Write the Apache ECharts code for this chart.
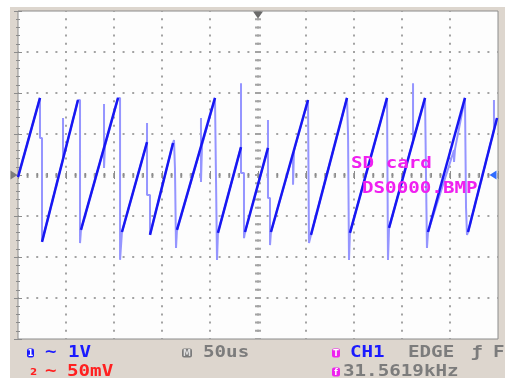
<!DOCTYPE html>
<html>
<head>
<meta charset="utf-8">
<script src="https://cdn.jsdelivr.net/npm/echarts@6/dist/echarts.min.js"></script>
<style>
  body { margin: 0; background: #fff; }
  #main { position: absolute; left: 10px; top: 7px; width: 495px; height: 371px; }
</style>
</head>
<body>
<div id="main"></div>
<script>
// scope setup: 50us/div, 1V/div, 10 x 8 divisions
var timeMax = 500
var timeDiv = 50
var voltMax = 4
var voltDiv = 1

// CH1 trace, [time us, volts] (ramps + drops + glitches)
var trace = [
  [0, -0.05], [22.9, 1.88], [22.9, 0.90], [25, 0.90], [25, -1.63],
  [46.9, 0.39], [46.9, 1.39], [46.9, 0.39], [62.5, 1.83], [64.6, 1.83], [64.6, -1.66], [65.6, -1.34],
  [89.6, 0.66], [89.6, 1.73], [89.6, 0.17], [90.6, 0.71], [104.2, 1.88], [106.3, 1.88], [106.3, -2.07], [108.3, -1.39],
  [134.4, 0.80], [134.4, 1.27], [134.4, -0.49], [137.5, -0.49], [137.5, -1.46],
  [161.5, 0.78], [162.5, 0.85], [163.5, 0.17], [164.6, 0.17], [164.6, -1.78], [165.6, -1.34],
  [190.6, 0.68], [190.6, 1.39], [190.6, -0.17], [191.7, 0.73], [205.2, 1.88], [206.3, 1.88], [206.3, -0.17], [207.3, -0.17], [207.3, -2.07], [208.3, -1.41],
  [232.3, 0.68], [232.3, 2.24], [232.3, 0.05], [235.4, 0.05], [235.4, -1.54], [236.5, -1.39],
  [260.4, 0.66], [260.4, 1.34], [260.4, -0.56], [262.5, -0.56], [262.5, -1.71], [263.5, -1.39],
  [286.5, 0.51], [286.5, -0.24], [287.5, 0.59], [302.1, 1.83], [303.1, 1.83], [303.1, -1.66], [305.2, -1.46],
  [342.7, 1.88], [343.8, 1.88], [343.8, 0.98], [344.8, 0.98], [344.8, -2.07], [345.8, -1.41],
  [384.4, 1.88], [385.4, 1.88], [385.4, -2.07], [386.5, -1.29],
  [411.5, 0.83], [411.5, 2.24], [411.5, 0.83], [424, 1.88], [425, 1.88], [425, 0], [426, 0], [426, -1.78], [427.1, -1.39],
  [454.2, 0.61], [454.2, 0.32], [455.2, 0.63], [465.6, 1.88], [466.7, 1.88], [466.7, -0.80], [467.7, -0.80], [467.7, -1.46], [468.8, -1.39],
  [495.8, 1.10], [495.8, 1.83], [495.8, 1.10], [499, 1.39]
]

// rising ramps drawn darker: [t0, v0, t1, v1]
var ramps = [
  [0, -0.05, 22.9, 1.88],
  [25, -1.63, 62.5, 1.83],
  [65.6, -1.34, 104.2, 1.88],
  [108.3, -1.39, 134.4, 0.80],
  [137.5, -1.46, 161.5, 0.78],
  [165.6, -1.34, 205.2, 1.88],
  [208.3, -1.41, 232.3, 0.68],
  [236.5, -1.39, 260.4, 0.66],
  [263.5, -1.39, 302.1, 1.83],
  [305.2, -1.46, 342.7, 1.88],
  [345.8, -1.41, 384.4, 1.88],
  [386.5, -1.29, 424, 1.88],
  [427.1, -1.39, 465.6, 1.88],
  [468.8, -1.39, 499, 1.39]
]

var gridGray = '#a3a3a3'
var frameGray = '#8c8c8c'
var font = 'bold 15px "DejaVu Sans Mono"'
var sx = 1.28

function txt(x, y, s, color, f) {
  return { type: 'text', x: x, y: y, scaleX: sx, z: 50,
    style: { text: s, font: f || font, fill: color, verticalAlign: 'middle' } }
}
function badge(x, y, w, s, color, fg) {
  return { type: 'group', x: x, y: y, z: 50, children: [
    { type: 'rect', shape: { x: 0, y: -4.5, width: w, height: 9, r: 2 }, style: { fill: color } },
    { type: 'text', style: { text: s, x: w / 2, y: 0.5, font: 'bold 8px "DejaVu Sans"', fill: fg, align: 'center', verticalAlign: 'middle' } }
  ] }
}

var borderAxis = {
  type: 'value', min: 0, max: timeMax, interval: timeDiv,
  axisLine: { show: false }, axisLabel: { show: false },
  axisTick: { show: true, inside: true, length: 4, lineStyle: { color: frameGray } },
  minorTick: { show: true, splitNumber: 5, length: 2, lineStyle: { color: frameGray } },
  splitLine: { show: false }
}
var borderAxisY = Object.assign({}, borderAxis, { min: -voltMax, max: voltMax, interval: voltDiv })

var myChart = echarts.init(document.getElementById('main'))
var option = {
  animation: false,
  backgroundColor: '#ddd6ce',
  grid: { left: 8, top: 4, width: 480, height: 328, show: true,
    backgroundColor: '#fdfdfd', borderColor: frameGray, borderWidth: 1 },
  xAxis: [
    Object.assign({}, borderAxis, { position: 'bottom',
      splitLine: { show: true, showMinLine: false, showMaxLine: false,
        lineStyle: { color: gridGray, width: 2, type: [2, 6.2], dashOffset: 1 } } }),
    Object.assign({}, borderAxis, { position: 'top' }),
    { type: 'value', min: 0, max: timeMax, interval: timeMax / 2, position: 'bottom',
      axisLine: { show: false }, axisLabel: { show: false }, axisTick: { show: false },
      splitLine: { show: true, showMinLine: false, showMaxLine: false,
        lineStyle: { color: gridGray, width: 6, type: [2, 6.2], dashOffset: 1 } } }
  ],
  yAxis: [
    Object.assign({}, borderAxisY, { position: 'left',
      splitLine: { show: true, showMinLine: false, showMaxLine: false,
        lineStyle: { color: gridGray, width: 2, type: [2, 7.6], dashOffset: 1 } } }),
    Object.assign({}, borderAxisY, { position: 'right' }),
    { type: 'value', min: -voltMax, max: voltMax, interval: voltMax, position: 'left',
      axisLine: { show: false }, axisLabel: { show: false }, axisTick: { show: false },
      splitLine: { show: true, showMinLine: false, showMaxLine: false,
        lineStyle: { color: gridGray, width: 5, type: [2, 7.6], dashOffset: 1 } } }
  ],
  series: [
    {
      type: 'line', data: trace, showSymbol: false, z: 2,
      lineStyle: { color: '#9595ff', width: 2 },
      markPoint: {
        symbolSize: [10, 7], label: { show: false },
        data: [
          { coord: [timeMax / 2, voltMax], symbol: 'triangle', symbolRotate: 180, symbolOffset: [0, 4], itemStyle: { color: '#6a6a6a' } },
          { coord: [0, 0], symbol: 'triangle', symbolSize: [9, 7], symbolRotate: -90, symbolOffset: [-4, 0], itemStyle: { color: '#7d7d7d' } },
          { coord: [timeMax, 0], symbol: 'triangle', symbolSize: [9, 7], symbolRotate: 90, symbolOffset: [-5, 0], itemStyle: { color: '#2f6bff' } }
        ]
      }
    }
  ].concat(ramps.map(function (r) {
    return { type: 'line', data: [[r[0], r[1]], [r[2], r[3]]], showSymbol: false, z: 3,
      lineStyle: { color: '#1717f2', width: 2.5 } }
  })),
  graphic: [
    txt(341, 157, 'SD card', '#f020f0'),
    txt(352, 182, 'DS0000.BMP', '#f020f0'),
    badge(17, 346, 7, '1', '#1a1aff', '#fff'),
    txt(35, 346, '~', '#1a1aff'),
    txt(58, 346, '1V', '#1a1aff'),
    txt(20, 366, '2', '#ff2020', 'bold 8px "DejaVu Sans"'),
    txt(35, 365, '~', '#ff2020'),
    txt(57, 365, '50mV', '#ff2020'),
    badge(172, 346, 10, 'M', '#7a7a7a', '#dedede'),
    txt(193, 346, '50us', '#7c7c7c'),
    badge(322, 346, 8, 'T', '#ee22ee', '#fff'),
    txt(340, 346, 'CH1', '#1a1aff'),
    txt(398, 346, 'EDGE', '#7c7c7c'),
    txt(461, 346, 'ƒ', '#7c7c7c'),
    txt(483, 346, 'F', '#7c7c7c'),
    badge(322, 365, 8, 'f', '#ee22ee', '#fff'),
    txt(333, 365, '31.5619kHz', '#7c7c7c')
  ]
}
myChart.setOption(option)
</script>
</body>
</html>
